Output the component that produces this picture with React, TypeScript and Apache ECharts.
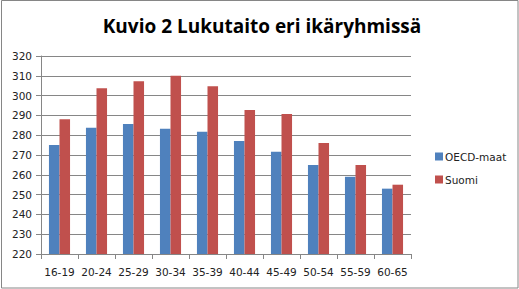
import React, { useEffect, useRef } from "react";
import * as echarts from "echarts";

const categories = ["16-19", "20-24", "25-29", "30-34", "35-39", "40-44", "45-49", "50-54", "55-59", "60-65"];
const oecdValues = [275, 283.7, 285.7, 283.2, 281.7, 277.1, 271.6, 265, 259, 253];
const suomiValues = [288.1, 303.7, 307.2, 310, 304.7, 292.7, 290.7, 276.1, 265, 255];
const seriesNames = ["OECD-maat", "Suomi"];
const titleText = "Kuvio 2 Lukutaito eri ikäryhmissä";

export default function App() {
  const ref = useRef<HTMLDivElement>(null);
  useEffect(() => {
    if (!ref.current) return;
    const chart = echarts.init(ref.current, null, { renderer: "svg" });
    const font = "'Open Sans', 'DejaVu Sans', sans-serif";
    const small = "'DejaVu Sans', Verdana, sans-serif";
    chart.setOption({
      animation: false,
      backgroundColor: "#ffffff",
      title: {
        text: titleText,
        left: 257,
        textAlign: "center",
        top: 11,
        textStyle: { fontFamily: font, fontWeight: "bold", fontSize: 19, color: "#000000" },
      },
      graphic: [
        {
          type: "rect",
          shape: { x: 1.5, y: 0.5, width: 516.5, height: 287.5 },
          style: { fill: "none", stroke: "#868686", lineWidth: 1 },
          silent: true,
        },
      ],
      legend: {
        orient: "vertical",
        left: 430,
        top: 146,
        itemWidth: 8,
        itemHeight: 8,
        itemGap: 12,
        icon: "rect",
        textStyle: { fontFamily: small, fontSize: 10.5, color: "#222222", padding: [0, 0, 0, -3] },
        data: seriesNames,
      },
      grid: { left: 41, right: 108, top: 56, bottom: 35, containLabel: false },
      xAxis: {
        type: "category",
        data: categories,
        axisLine: { lineStyle: { color: "#868686", width: 1 } },
        axisTick: { show: true, alignWithLabel: false, length: 5, lineStyle: { color: "#868686" } },
        axisLabel: { fontFamily: small, fontSize: 10.5, color: "#222222", margin: 12, interval: 0 },
      },
      yAxis: {
        type: "value",
        min: 220,
        max: 320,
        interval: 10,
        axisLine: { show: true, lineStyle: { color: "#868686", width: 1 } },
        axisTick: { show: true, length: 5, lineStyle: { color: "#868686" } },
        axisLabel: { fontFamily: small, fontSize: 10.5, color: "#222222", margin: 9 },
        splitLine: { lineStyle: { color: "#868686", width: 1 } },
      },
      series: [
        {
          name: seriesNames[0],
          type: "bar",
          data: oecdValues,
          itemStyle: { color: "#4F81BD" },
          barGap: "0%",
          barCategoryGap: "43%",
        },
        {
          name: seriesNames[1],
          type: "bar",
          data: suomiValues,
          itemStyle: { color: "#C0504D" },
          barGap: "0%",
          barCategoryGap: "43%",
        },
      ],
    });
    return () => chart.dispose();
  }, []);
  return <div ref={ref} style={{ position: "fixed", left: 0, top: 0, width: 519, height: 289 }} />;
}
